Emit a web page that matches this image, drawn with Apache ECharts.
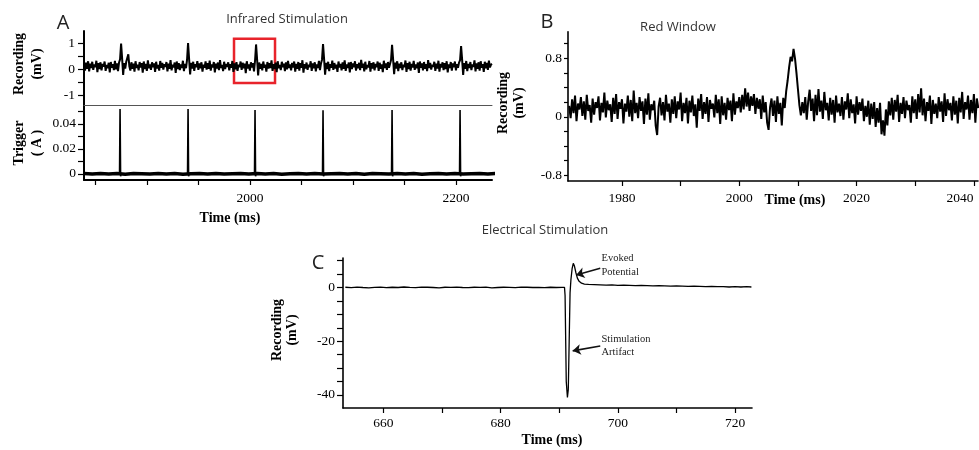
<!DOCTYPE html>
<html>
<head>
<meta charset="utf-8">
<script src="https://cdn.jsdelivr.net/npm/echarts@6/dist/echarts.min.js"></script>
<style>
html,body{margin:0;padding:0;background:#fff;}
#chart{width:979px;height:450px;}
</style>
</head>
<body>
<div id="chart"></div>
<script>
// ---------- Panel A (top): recording, sampled every 1 ms from 1839 ms ----------
const aTopStart = 1839;
const aTopStep = 1;
const aTopValues = [
0.18,-0.05,0.26,0.02,0.31,-0.08,0.22,0.05,0.29,-0.02,0.19,0.08,0.33,-0.11,0.24,0.01,0.27,-0.04,0.21,0.10,
0.30,-0.06,0.17,0.04,0.25,-0.12,0.28,0.06,0.20,-0.03,0.32,0.00,0.23,-0.07,0.26,0.38,0.99,0.42,-0.22,0.24,
0.03,0.29,0.30,0.58,0.12,-0.05,0.27,0.02,0.22,-0.09,0.31,0.05,0.18,-0.04,0.28,0.07,0.24,-0.13,0.30,0.01,
0.21,-0.06,0.34,0.04,0.19,-0.02,0.27,0.08,0.23,-0.10,0.29,0.03,0.17,-0.05,0.32,0.06,0.25,-0.01,0.20,0.09,
0.28,-0.08,0.22,0.02,0.35,-0.04,0.18,0.07,0.26,-0.14,0.30,0.01,0.24,-0.03,0.19,0.05,0.33,-0.07,0.21,0.04,
0.36,1.01,0.40,-0.20,0.25,0.03,0.29,-0.06,0.20,0.08,0.31,-0.02,0.23,0.04,0.27,-0.09,0.18,0.06,0.30,-0.01,
0.24,0.02,0.33,-0.05,0.19,0.07,0.28,-0.12,0.22,0.03,0.26,-0.03,0.35,0.05,0.17,-0.07,0.29,0.01,0.21,0.09,
0.27,-0.04,0.20,0.06,0.32,-0.10,0.23,0.00,0.28,-0.06,0.18,0.08,0.30,-0.02,0.25,0.04,0.22,-0.15,0.31,0.03,
0.19,-0.05,0.27,0.07,0.24,-0.08,0.33,0.96,0.38,-0.24,0.26,0.02,0.21,-0.04,0.30,0.06,0.18,-0.09,0.28,0.03,
0.23,0.05,0.34,-0.06,0.20,0.01,0.26,-0.11,0.31,0.04,0.17,-0.03,0.29,0.08,0.22,-0.07,0.27,0.00,0.32,0.05,
0.19,-0.04,0.25,0.07,0.30,-0.09,0.21,0.02,0.28,-0.05,0.24,0.06,0.35,-0.13,0.20,0.03,0.26,-0.02,0.18,0.08,
0.31,-0.06,0.23,0.04,0.27,-0.08,0.19,0.05,0.32,-0.03,0.22,0.37,0.97,0.41,-0.21,0.25,0.01,0.29,-0.07,0.20,
0.06,0.33,-0.02,0.24,0.03,0.18,-0.10,0.30,0.07,0.21,-0.04,0.27,0.02,0.34,-0.06,0.19,0.05,0.26,-0.12,0.28,
0.01,0.23,0.08,0.31,-0.05,0.20,0.04,0.25,-0.03,0.36,0.06,0.22,-0.08,0.29,0.00,0.17,0.07,0.32,-0.09,0.24,
0.03,0.27,-0.04,0.21,0.08,0.30,-0.06,0.25,0.02,0.19,-0.11,0.33,0.05,0.23,-0.02,0.28,0.06,0.20,0.36,0.95,
0.39,-0.19,0.26,0.03,0.31,-0.07,0.22,0.05,0.27,-0.03,0.18,0.08,0.34,-0.10,0.24,0.01,0.29,-0.05,0.21,0.07,
0.32,-0.02,0.19,0.04,0.26,-0.14,0.30,0.06,0.23,-0.04,0.28,0.02,0.20,-0.07,0.35,0.05,0.25,-0.01,0.18,0.09,
0.29,-0.06,0.22,0.03,0.33,-0.09,0.21,0.07,0.27,-0.03,0.24,0.01,0.31,-0.12,0.19,0.05,0.28,-0.05,0.23,0.08,
0.30,-0.04,0.20,0.06,0.26,0.35,0.90,0.37,-0.22,0.24,0.02,0.32,-0.07,0.21,0.05,0.28,-0.03,0.19,0.09,0.34,
-0.08,0.23,0.02,0.27,-0.05,0.31,0.06,0.20,-0.10,0.29,0.04,0.25,-0.02,0.33,0.07,0.18,0.21
];
// red window drawn on panel A (ms, mV)
const redWindowX = [1984.6, 2024.4];
const redWindowY = [-0.53, 1.18];

// ---------- Panel A (bottom): trigger ----------
const triggerTimes = [1874, 1940, 2005, 2071, 2138, 2204];
const triggerPeaks = [0.052, 0.052, 0.0512, 0.051, 0.0512, 0.0512];
const triggerBaseStart = 1839;
const triggerBaseStep = 8;
const triggerBase = [
0.0002,-0.0002,0.0003,-0.0001,0.0002,-0.0003,0.0002,0.0000,-0.0002,0.0003,
-0.0001,0.0002,-0.0003,0.0001,0.0002,-0.0002,0.0003,-0.0002,0.0001,0.0003,
-0.0002,0.0002,-0.0001,0.0002,-0.0003,0.0001,0.0003,-0.0002,0.0002,-0.0002,
0.0001,0.0003,-0.0001,0.0002,-0.0003,0.0002,0.0000,-0.0002,0.0003,-0.0001,
0.0002,-0.0003,0.0001,0.0002,-0.0002,0.0003,-0.0002,0.0001,0.0002,-0.0001,0.0002
];

// ---------- Panel B: red window, sampled every 0.25 ms from 1971 ms ----------
const bStart = 1971;
const bStep = 0.25;
const bValues = [
0.15,-0.02,0.24,0.05,0.29,-0.06,0.18,0.10,0.27,0.01,0.21,-0.04,0.30,0.08,0.16,-0.08,0.25,0.03,0.20,0.12,
0.28,-0.05,0.19,0.06,0.33,-0.01,0.22,0.09,0.17,-0.07,0.26,0.04,0.31,-0.03,0.20,0.11,0.24,-0.09,0.18,0.07,
0.29,0.00,0.23,-0.06,0.36,0.05,0.19,-0.02,0.27,0.08,0.21,-0.10,0.25,0.03,0.32,-0.04,0.17,0.09,0.22,-0.12,
-0.25,0.14,0.26,0.02,0.20,-0.05,0.30,0.07,0.18,-0.08,0.24,0.04,0.28,-0.02,0.21,0.10,0.33,-0.06,0.19,0.05,
0.26,-0.09,0.22,0.06,0.29,0.01,0.17,-0.15,0.25,0.08,0.31,-0.03,0.20,0.04,0.27,-0.07,0.23,0.11,0.18,-0.01,
0.30,0.05,0.24,-0.10,0.28,0.02,0.19,-0.04,0.26,0.09,0.22,-0.06,0.32,0.03,0.21,0.12,0.27,0.06,0.30,0.10,
0.39,0.14,0.33,0.08,0.28,0.15,0.31,0.04,0.26,0.11,0.24,-0.03,0.29,0.06,0.20,-0.08,-0.18,0.13,0.25,0.01,
0.22,-0.07,0.28,0.04,0.19,-0.12,0.26,0.12,0.35,0.50,0.68,0.82,0.76,0.93,0.80,0.60,0.38,0.16,0.02,0.20,
0.05,0.27,-0.04,0.21,0.37,0.08,0.25,-0.06,0.30,0.02,0.38,0.07,0.22,-0.03,0.34,0.09,0.19,-0.05,0.26,0.03,
0.23,-0.08,0.29,0.06,0.18,0.01,0.27,-0.04,0.21,0.10,0.32,-0.02,0.24,0.05,0.17,-0.09,0.28,0.03,0.20,0.08,
0.25,-0.06,0.15,0.00,0.22,-0.11,0.18,-0.03,0.20,-0.14,0.12,-0.08,0.19,-0.24,-0.05,-0.26,0.10,-0.12,0.21,0.02,
0.26,-0.04,0.23,0.07,0.30,-0.07,0.19,0.04,0.27,-0.02,0.22,0.09,0.16,-0.08,0.28,0.05,0.24,-0.03,0.31,0.06,
0.39,0.02,0.25,-0.06,0.20,0.08,0.29,-0.10,0.23,0.04,0.18,-0.02,0.27,0.07,0.21,-0.07,0.32,0.01,0.24,0.09,
0.19,-0.05,0.28,0.03,0.22,-0.09,0.26,0.06,0.34,-0.03,0.20,0.10,0.29,-0.04,0.23,0.05,0.31,-0.08,0.25,0.12
];

// ---------- Panel C: electrical stimulation ----------
const cTimes = [
653.5,654.5,655.5,656.5,657.5,658.5,659.5,660.5,661.5,662.5,663.5,664.5,665.5,666.5,667.5,668.5,669.5,670.5,671.5,672.5,
673.5,674.5,675.5,676.5,677.5,678.5,679.5,680.5,681.5,682.5,683.5,684.5,685.5,686.5,687.5,688.5,689.5,690.5,
690.9,691.0,691.2,691.4,691.55,691.7,691.85,692.0,692.2,692.4,692.6,692.85,693.1,693.4,693.8,694.3,695,696,697,
698,699,700,701,702,703,704,705,706,707,708,709,710,711,712,713,714,715,716,717,718,719,720,721,722,722.8
];
const cValues = [
0.1,-0.05,0.15,0.0,-0.1,0.05,0.15,-0.05,0.1,0.0,0.2,0.05,-0.05,0.15,0.1,0.0,-0.1,0.1,0.05,0.15,
0.0,-0.05,0.1,0.05,0.15,-0.1,0.0,0.1,0.05,-0.05,0.15,0.1,0.0,0.05,-0.05,0.1,0.0,0.05,
0.05,-3,-35,-41,-38,-20,-2,3,7,9,8,5.5,3.5,2.3,1.6,1.3,1.2,1.1,1.0,
0.9,1.0,0.8,0.9,0.8,0.7,0.8,0.7,0.6,0.7,0.6,0.5,0.6,0.5,0.4,0.5,0.4,0.3,0.4,0.3,0.3,0.2,0.3,0.2,0.3,0.2
];
// annotation arrows [from, to] in (ms, mV)
const evokedArrow = [[697.0, 7.2], [692.9, 4.7]];
const artifactArrow = [[697.0, -21.8], [692.3, -23.6]];

// ---------- Axis ticks / labels ----------
const aXTicks = [1850,1900,1950,2000,2050,2100,2150,2200];
const aXLabels = [2000,2200];
const aTopYTicks = [-1,-0.5,0,0.5,1];
const aTopYLabels = [-1,0,1];
const trigYTicks = [0,0.01,0.02,0.03,0.04,0.05];
const trigYLabels = [0,0.02,0.04];
const bXTicks = [1980,1990,2000,2010,2020,2030,2040];
const bXLabels = [1980,2000,2020,2040];
const bYTicks = [-0.8,-0.6,-0.4,-0.2,0,0.2,0.4,0.6,0.8,1.0];
const bYLabels = [-0.8,0,0.8];
const cXTicks = [660,670,680,690,700,710,720];
const cXLabels = [660,680,700,720];
const cYTicks = [-40,-35,-30,-25,-20,-15,-10,-5,0,5,10];
const cYLabels = [-40,-20,0];

// ---------- build series data ----------
const aTopData = aTopValues.map((v, i) => [aTopStart + i * aTopStep, v]);
const trigBaseData = triggerBase.map((v, i) => [triggerBaseStart + i * triggerBaseStep, v]);
const trigSpikeData = [];
triggerTimes.forEach((t, i) => {
  trigSpikeData.push([t - 0.5, 0], [t, triggerPeaks[i]], [t + 0.5, -0.002], [t + 1, 0], [t + 1, '-']);
});
const bData = bValues.map((v, i) => [bStart + i * bStep, v]);
const cData = cTimes.map((t, i) => [t, cValues[i]]);

const SERIF = '"Liberation Serif","Times New Roman",serif';
const SANS = '"Open Sans","Noto Sans",sans-serif';

function xAx(gi, min, max, ticks, labels, opt) {
  opt = opt || {};
  return {
    type: 'value', gridIndex: gi, min: min, max: max,
    splitLine: {show: false},
    axisLine: {show: true, onZero: false, lineStyle: {color: '#000', width: opt.lw || 1.6}},
    axisTick: {show: !!ticks, customValues: ticks || [], length: 5, lineStyle: {color: '#000', width: 1.2}},
    axisLabel: {show: !!labels, customValues: labels || [], margin: opt.margin || 10,
      fontFamily: SERIF, fontSize: 13.5, color: '#000',
      formatter: opt.formatter || (v => String(v)), rich: opt.rich},
  };
}
function yAx(gi, min, max, ticks, labels, opt) {
  opt = opt || {};
  return {
    type: 'value', gridIndex: gi, min: min, max: max,
    splitLine: {show: false},
    axisLine: {show: true, onZero: false, lineStyle: {color: '#000', width: opt.lw || 1.6}},
    axisTick: {show: true, customValues: ticks, length: opt.tl || 5, lineStyle: {color: '#000', width: 1.2}},
    axisLabel: {show: true, customValues: labels, margin: opt.margin || 8,
      fontFamily: SERIF, fontSize: 13.5, color: '#000', formatter: v => String(v)},
  };
}

function txt(x, y, text, font, opt) {
  opt = opt || {};
  return {
    type: 'text', x: x, y: y, rotation: opt.rot || 0, silent: true, z: 100,
    style: {text: text, font: font, fill: opt.fill || '#000',
      align: opt.align || 'center', verticalAlign: 'middle',
      textAlign: opt.align || 'center', textVerticalAlign: 'middle'}
  };
}
const R90 = Math.PI / 2;
const labelFont = 'bold 14px ' + SERIF;
const titleFont = '13px ' + SANS;
const letterFont = '20px ' + SANS;
const noteFont = '10.5px ' + SERIF;

const option = {
  animation: false,
  backgroundColor: '#fff',
  grid: [
    {left: 84, top: 31, width: 408, height: 74.7, containLabel: false, outerBoundsMode: 'none'},
    {left: 84, top: 105.7, width: 408, height: 74.3, containLabel: false, outerBoundsMode: 'none'},
    {left: 568, top: 31.7, width: 410, height: 149.3, containLabel: false, outerBoundsMode: 'none'},
    {left: 343, top: 258, width: 409, height: 150, containLabel: false, outerBoundsMode: 'none'}
  ],
  xAxis: [
    Object.assign(xAx(0, 1839, 2235, null, null), {axisLine: {show: true, onZero: false, lineStyle: {color: '#555', width: 1}}}),
    xAx(1, 1839, 2235, aXTicks, aXLabels, {lw: 2, margin: 11}),
    xAx(2, 1970.8, 2040.7, bXTicks, bXLabels, {margin: 10,
      formatter: v => v === 2040 ? '{r|2040}' : String(v),
      rich: {r: {fontFamily: SERIF, fontSize: 13.5, color: '#000', padding: [0, 28, 0, 0]}}}),
    xAx(3, 653.1, 722.9, cXTicks, cXLabels, {margin: 8})
  ],
  yAxis: [
    yAx(0, -1.41, 1.48, aTopYTicks, aTopYLabels, {lw: 2, tl: 6, margin: 9}),
    yAx(1, -0.005, 0.0546, trigYTicks, trigYLabels, {lw: 2, tl: 6, margin: 8}),
    yAx(2, -0.88, 1.165, bYTicks, bYLabels, {tl: 4, margin: 6}),
    yAx(3, -44.9, 11, cYTicks, cYLabels, {tl: 6, margin: 8})
  ],
  series: [
    {type: 'line', xAxisIndex: 0, yAxisIndex: 0, data: aTopData, showSymbol: false, sampling: null,
      lineStyle: {color: '#000', width: 2}, z: 2},
    {type: 'line', xAxisIndex: 0, yAxisIndex: 0, data: [[redWindowX[0], redWindowY[0]]], showSymbol: false,
      lineStyle: {width: 0}, z: 10,
      markArea: {silent: true, label: {show: false},
        itemStyle: {color: 'rgba(0,0,0,0)', borderColor: '#e8232b', borderWidth: 2.5},
        data: [[{coord: [redWindowX[0], redWindowY[1]]}, {coord: [redWindowX[1], redWindowY[0]]}]]}},
    {type: 'line', xAxisIndex: 1, yAxisIndex: 1, data: trigBaseData, showSymbol: false,
      lineStyle: {color: '#000', width: 3.5}},
    {type: 'line', xAxisIndex: 1, yAxisIndex: 1, data: trigSpikeData, showSymbol: false, connectNulls: false,
      lineStyle: {color: '#000', width: 1.6}},
    {type: 'line', xAxisIndex: 2, yAxisIndex: 2, data: bData, showSymbol: false, sampling: null,
      lineStyle: {color: '#000', width: 2}},
    {type: 'line', xAxisIndex: 3, yAxisIndex: 3, data: cData, showSymbol: false,
      lineStyle: {color: '#000', width: 1.3},
      markLine: {silent: true, symbol: ['none', 'arrow'], symbolSize: 8, label: {show: false},
        lineStyle: {color: '#111', width: 1.6, type: 'solid'},
        emphasis: {disabled: true},
        data: [
          [{coord: evokedArrow[0]}, {coord: evokedArrow[1]}],
          [{coord: artifactArrow[0]}, {coord: artifactArrow[1]}]
        ]}}
  ],
  graphic: [
    txt(63, 23, 'A', letterFont, {fill: '#222'}),
    txt(287, 19, 'Infrared Stimulation', titleFont, {fill: '#333'}),
    txt(547, 22, 'B', letterFont, {fill: '#222'}),
    txt(678, 27, 'Red Window', titleFont, {fill: '#333'}),
    txt(318, 263, 'C', letterFont, {fill: '#222'}),
    txt(545, 230, 'Electrical Stimulation', titleFont, {fill: '#333'}),
    txt(19, 64, 'Recording', labelFont, {rot: R90}),
    txt(37, 64, '(mV)', labelFont, {rot: R90}),
    txt(19, 143, 'Trigger', labelFont, {rot: R90}),
    txt(37, 143, '( A )', labelFont, {rot: R90}),
    txt(503, 103, 'Recording', labelFont, {rot: R90}),
    txt(519, 103, '(mV)', labelFont, {rot: R90}),
    txt(277, 330, 'Recording', labelFont, {rot: R90}),
    txt(292, 330, '(mV)', labelFont, {rot: R90}),
    txt(230, 218, 'Time (ms)', labelFont),
    txt(795, 200, 'Time (ms)', labelFont),
    txt(552, 440, 'Time (ms)', labelFont),
    txt(601.5, 258, 'Evoked', noteFont, {align: 'left', fill: '#222'}),
    txt(601.5, 272, 'Potential', noteFont, {align: 'left', fill: '#222'}),
    txt(601.5, 339, 'Stimulation', noteFont, {align: 'left', fill: '#222'}),
    txt(601.5, 352, 'Artifact', noteFont, {align: 'left', fill: '#222'})
  ]
};

const chart = echarts.init(document.getElementById('chart'), null, {renderer: 'canvas'});
chart.setOption(option);
</script>
</body>
</html>
